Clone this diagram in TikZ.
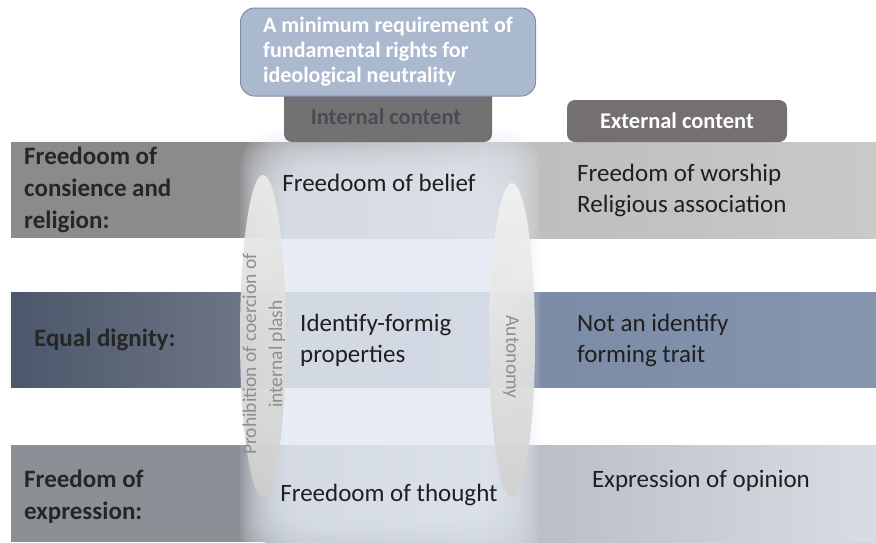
\documentclass[tikz,border=0pt]{standalone}
\usepackage{fontspec}
\setmainfont{Carlito}
\usepackage{tikz}
\usetikzlibrary{shapes.geometric, positioning}

\definecolor{calloutfill}{HTML}{AAB9CD}
\definecolor{calloutline}{HTML}{7F8FA5}
\definecolor{headgray}{HTML}{727272}
\definecolor{headglow}{HTML}{C9CDD5}
\definecolor{headtext}{HTML}{484C54}
\definecolor{extgray}{HTML}{747070}
\definecolor{relA}{HTML}{8B8B8B}
\definecolor{relB}{HTML}{BDBDBD}
\definecolor{relC}{HTML}{C9C9C9}
\definecolor{digA}{HTML}{4C576B}
\definecolor{digB}{HTML}{7B8AA5}
\definecolor{digC}{HTML}{8796AE}
\definecolor{expA}{HTML}{8C9096}
\definecolor{expB}{HTML}{B7BCC5}
\definecolor{expC}{HTML}{D8DCE3}
\definecolor{glow}{HTML}{E4EAF3}
\definecolor{sidegray}{HTML}{8E8E8E}

\begin{document}
\begin{tikzpicture}[x=1pt, y=-1pt,
    cell/.style={inner sep=0pt, align=left, text=black!88, font=\fontsize{25}{31}\selectfont},
    rowlabel/.style={cell, text=black!85, font=\bfseries\fontsize{25}{32}\selectfont},
    headbox/.style={rounded corners=8pt, inner sep=0pt, font=\bfseries\fontsize{22.5}{25}\selectfont},
    callout/.style={rounded corners=14pt, fill=calloutfill, draw=calloutline, line width=1pt,
                    text=white, align=left, minimum width=295pt, minimum height=88pt,
                    font=\bfseries\fontsize{22}{25}\selectfont},
    pillar/.style={ellipse, inner sep=0pt, minimum height=46pt, opacity=0.92},
    sidetext/.style={inner sep=0pt, align=center, text=sidegray, font=\fontsize{19.5}{26}\selectfont}]

\useasboundingbox (0,0) rectangle (876,542);

% the three rows: left part, middle blend, right part
\fill[relA] (11,142) rectangle (265,238);
\shade[left color=relA, right color=relB] (265,142) rectangle (510,238);
\shade[left color=relB, right color=relC] (510,142) rectangle (876,238);
\shade[left color=digA, right color=digA!80!white] (11,292) rectangle (265,387);
\shade[left color=digA!80!white, right color=digB] (265,292) rectangle (510,387);
\shade[left color=digB, right color=digC] (510,292) rectangle (876,387);
\fill[expA] (11,445) rectangle (265,542);
\shade[left color=expA, right color=expB] (265,445) rectangle (510,542);
\shade[left color=expB, right color=expC] (510,445) rectangle (876,542);

% soft light column over the middle
\foreach \i in {0,...,19}
  \fill[glow, opacity=0.1, rounded corners=40pt]
    (240+2.5*\i,128+2.5*\i) rectangle (540-2.5*\i,570-2.5*\i);

% heading boxes
\node[headbox, minimum width=208pt, minimum height=56pt, left color=headgray,
      middle color=headglow, right color=headgray] (internal) at (388,114) {};
\node[inner sep=0pt, text=headtext, font=\bfseries\fontsize{22.5}{25}\selectfont] (internaltxt) at (386,117) {Internal content};
\node[headbox, minimum width=220pt, minimum height=42pt, fill=extgray, text=white] (external) at (677,121) {External content};
\node[callout] (minreq) at (388,52) {A minimum requirement of\\fundamental rights for\\ideological neutrality};

% row labels
\node[rowlabel, anchor=west] (religion) at (24,190) {Freedoom of\\consience and\\religion:};
\node[rowlabel, anchor=west] (dignity) at (34,340) {Equal dignity:};
\node[rowlabel, anchor=west] (expression) at (24,497) {Freedom of\\expression:};

% internal content
\node[cell] (belief) at (379,183) {Freedoom of belief};
\node[cell, anchor=west] (identity) at (300,340) {Identify-formig\\properties};
\node[cell] (thought) at (389,495) {Freedoom of thought};

% external content
\node[cell, anchor=west] (worship) at (577,190) {Freedom of worship\\Religious association};
\node[cell, anchor=west] (trait) at (577,340) {Not an identify\\forming trait};
\node[cell] (opinion) at (701,481) {Expression of opinion};

% the two pillars
\node[pillar, rotate=90, minimum width=322pt, top color=black!8, bottom color=black!19] (coercion) at (263,336) {};
\node[pillar, rotate=-90, minimum width=314pt, top color=black!5, bottom color=black!18] (autonomy) at (512,340) {};
\node[sidetext, rotate=90] (coercionlbl) at (264,354) {Prohibition of coercion of\\internal plash};
\node[sidetext, rotate=-90] (autonomylbl) at (511,357) {Autonomy};

\end{tikzpicture}
\end{document}
